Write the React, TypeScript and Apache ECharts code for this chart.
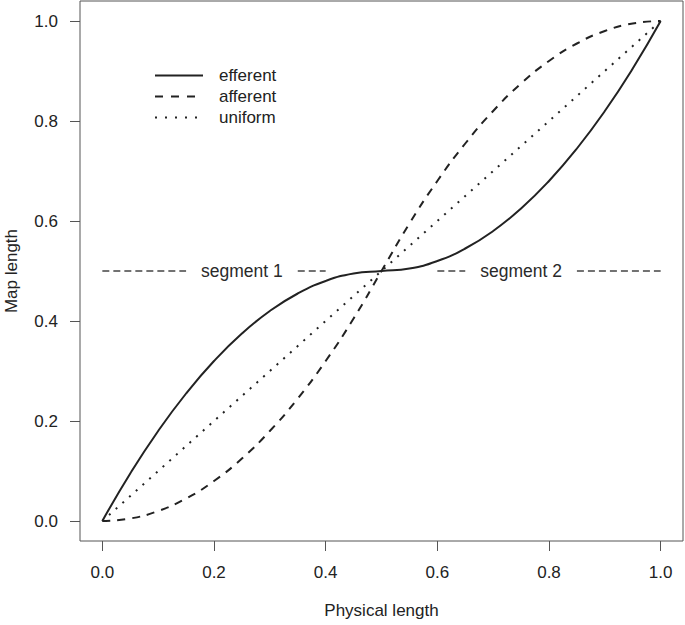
import React, { useEffect, useRef } from "react";
import * as echarts from "echarts";

const xValues = [0, 0.05, 0.1, 0.15, 0.2, 0.25, 0.3, 0.35, 0.4, 0.45, 0.5, 0.55, 0.6, 0.65, 0.7, 0.75, 0.8, 0.85, 0.9, 0.95, 1.0];
const efferent = [0, 0.095, 0.18, 0.255, 0.32, 0.375, 0.42, 0.455, 0.48, 0.495, 0.5, 0.505, 0.52, 0.545, 0.58, 0.625, 0.68, 0.745, 0.82, 0.905, 1.0];
const afferent = [0, 0.005, 0.02, 0.045, 0.08, 0.125, 0.18, 0.245, 0.32, 0.405, 0.5, 0.595, 0.68, 0.755, 0.82, 0.875, 0.92, 0.955, 0.98, 0.995, 1.0];
const uniformX = [0, 1];
const uniformY = [0, 1];
const tickValues = [0, 0.2, 0.4, 0.6, 0.8, 1.0];
const segmentDashes = [[0, 0.15], [0.35, 0.4], [0.6, 0.65], [0.85, 1.0]];
const segmentLevel = 0.5;
const segmentLabels = [
  { name: "segment 1", x: 0.25 },
  { name: "segment 2", x: 0.75 },
];
const legendNames = ["efferent", "afferent", "uniform"];

const FONT = "Liberation Sans, Arial, Helvetica, sans-serif";
const INK = "#222";

export default function App() {
  const ref = useRef<HTMLDivElement>(null);
  useEffect(() => {
    document.body.style.margin = "0";
    const chart = echarts.init(ref.current!, null, { renderer: "svg" });
    const segData: any[] = [];
    segmentDashes.forEach((s, i) => {
      if (i > 0) segData.push("-");
      segData.push([s[0], segmentLevel], [s[1], segmentLevel]);
    });
    const legendDash: any[] = [null, [8, 8], [2, 8]];
    const legendGraphics: any[] = [];
    legendNames.forEach((n, i) => {
      const y = 75.5 + i * 21;
      legendGraphics.push({
        type: "line",
        shape: { x1: 155, y1: y, x2: 203, y2: y },
        style: { stroke: INK, lineWidth: 2, lineDash: legendDash[i] },
      });
      legendGraphics.push({
        type: "text",
        x: 219,
        y: y,
        style: { text: n, font: `17px ${FONT}`, fill: INK, textVerticalAlign: "middle", textAlign: "left" },
      });
    });
    const axisCommon = (name: string, gap: number, margin: number) => ({
      type: "value",
      min: -0.04,
      max: 1.04,
      name,
      nameLocation: "middle",
      nameGap: gap,
      nameTextStyle: { fontSize: 17, color: INK, fontFamily: FONT },
      axisLine: { show: false, onZero: false },
      splitLine: { show: false },
      axisTick: { show: true, inside: false, length: 10, lineStyle: { color: "#555" }, customValues: tickValues },
      axisLabel: { fontSize: 17, color: INK, fontFamily: FONT, margin, customValues: tickValues, formatter: (v: number) => v.toFixed(1) },
    });
    chart.setOption({
      animation: false,
      backgroundColor: "#fff",
      textStyle: { fontFamily: FONT },
      grid: {
        left: 80, top: 1, width: 603, height: 540,
        outerBoundsMode: "none", containLabel: false,
        show: true, borderColor: "#555", borderWidth: 1, backgroundColor: "transparent",
      },
      xAxis: axisCommon("Physical length", 61, 23),
      yAxis: axisCommon("Map length", 60, 22),
      graphic: legendGraphics,
      series: [
        {
          name: "segment lines",
          type: "line",
          data: segData,
          symbol: "none",
          connectNulls: false,
          lineStyle: { color: "#444", width: 1.3, type: [7, 4] },
          silent: true,
        },
        {
          name: "segment labels",
          type: "scatter",
          data: segmentLabels.map((s) => ({ name: s.name, value: [s.x, segmentLevel] })),
          symbolSize: 1,
          itemStyle: { color: "#fff", opacity: 1 },
          label: {
            show: true, position: "inside", formatter: "{b}", fontSize: 17.5,
            color: "#2a2a2a", fontFamily: FONT, textBorderWidth: 0, textBorderColor: "transparent",
          },
          silent: true,
        },
        {
          name: "uniform",
          type: "line",
          data: uniformX.map((x, i) => [x, uniformY[i]]),
          symbol: "none",
          lineStyle: { color: INK, width: 2, type: [2, 7] },
        },
        {
          name: "afferent",
          type: "line",
          data: xValues.map((x, i) => [x, afferent[i]]),
          symbol: "none",
          smooth: true,
          lineStyle: { color: INK, width: 2, type: [8, 7] },
        },
        {
          name: "efferent",
          type: "line",
          data: xValues.map((x, i) => [x, efferent[i]]),
          symbol: "none",
          smooth: true,
          lineStyle: { color: INK, width: 2 },
        },
      ],
    });
    return () => chart.dispose();
  }, []);
  return <div ref={ref} style={{ position: "fixed", left: 0, top: 0, width: 685, height: 625 }} />;
}
